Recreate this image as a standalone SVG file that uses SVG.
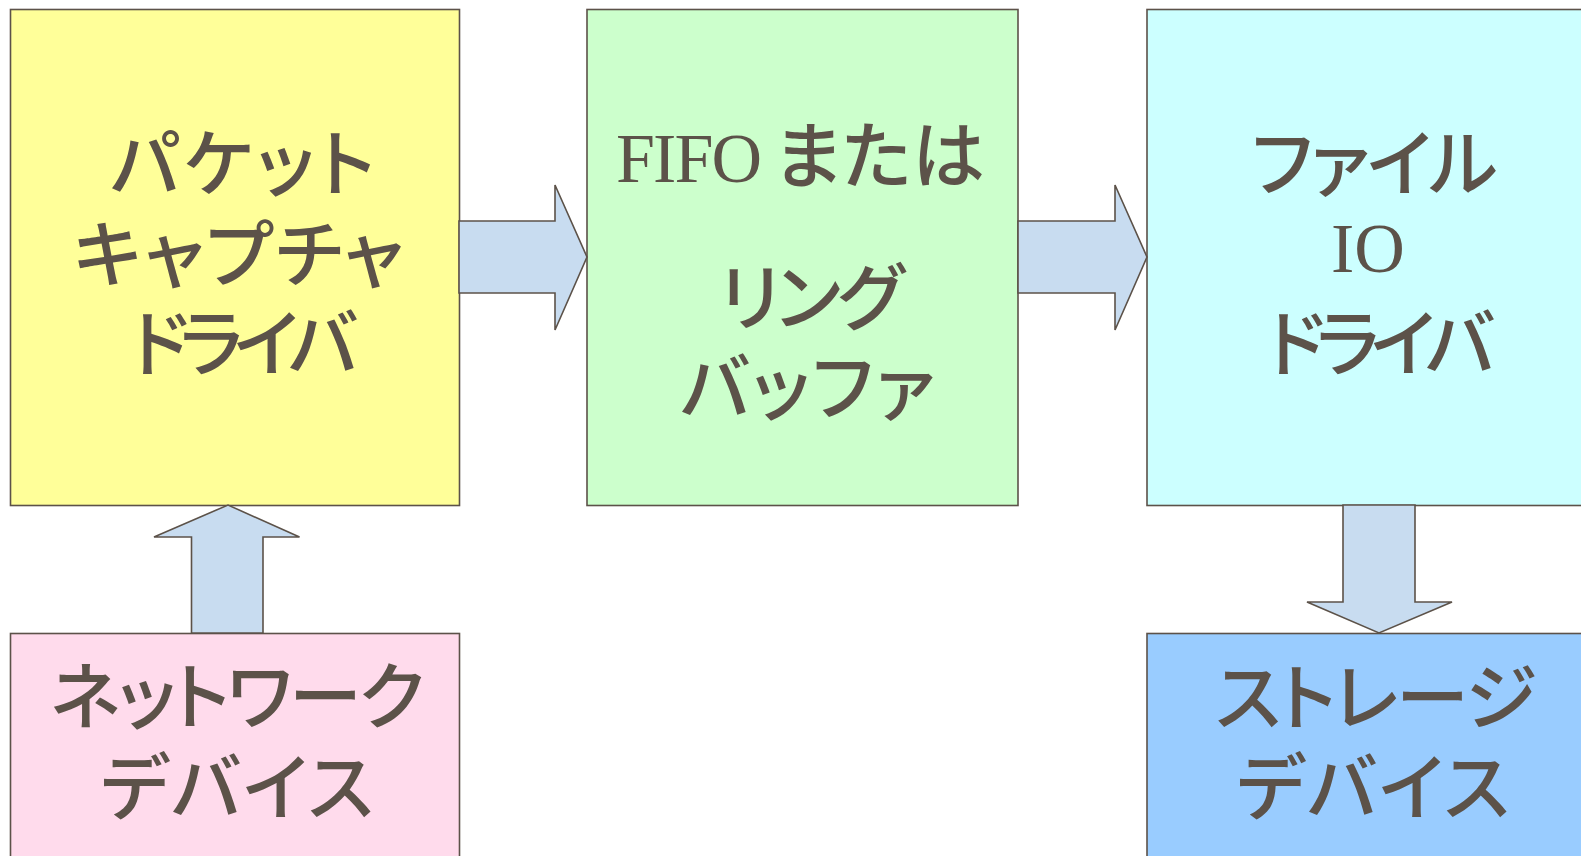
<svg xmlns="http://www.w3.org/2000/svg" width="1581" height="856" viewBox="0 0 1581 856">
<style>
.box{stroke:#5C5249;stroke-width:1.6}
.arrow{fill:#C8DCF0;stroke:#5C5249;stroke-width:1.6;stroke-linejoin:miter}
.jp{font-family:"Noto Sans CJK JP","Noto Sans",sans-serif;font-size:73px;font-weight:500;fill:#5C5249;text-anchor:middle;font-feature-settings:"palt" 1}
.lat{font-family:"Liberation Serif",serif;font-size:70px;font-weight:normal;fill:#5C5249}
</style>
<rect width="1581" height="856" fill="#FFFFFF"/>
<g id="node-packet">
<rect class="box" x="10.5" y="9.5" width="449" height="496" fill="#FFFF99"/>
<text class="jp" x="242.5" y="190" textLength="264" lengthAdjust="spacing">パケット</text>
<text class="jp" x="238.5" y="281" textLength="330" lengthAdjust="spacing">キャプチャ</text>
<text class="jp" x="244" y="370" textLength="227" lengthAdjust="spacing">ドライバ</text>
</g>
<g id="node-fifo">
<rect class="box" x="587" y="9.5" width="431" height="496" fill="#CCFFCC"/>
<text class="lat" x="616" y="182" textLength="146" lengthAdjust="spacing">FIFO</text>
<text class="jp" x="774" y="182" style="text-anchor:start" textLength="211" lengthAdjust="spacing">または</text>
<text class="jp" x="811.5" y="324" textLength="184" lengthAdjust="spacing">リング</text>
<text class="jp" x="807.5" y="414" textLength="254" lengthAdjust="spacing">バッファ</text>
</g>
<g id="node-fileio">
<rect class="box" x="1147" y="9.5" width="449" height="496" fill="#CCFFFF"/>
<text class="jp" x="1374.5" y="190" textLength="246" lengthAdjust="spacing">ファイル</text>
<text class="lat" x="1368" y="272" style="text-anchor:middle">IO</text>
<text class="jp" x="1380.5" y="370" textLength="228" lengthAdjust="spacing">ドライバ</text>
</g>
<g id="node-network">
<rect class="box" x="10.5" y="633.5" width="449" height="240" fill="#FFDBEC"/>
<text class="jp" x="237.5" y="723" textLength="374" lengthAdjust="spacing">ネットワーク</text>
<text class="jp" x="237" y="814" textLength="273" lengthAdjust="spacing">デバイス</text>
</g>
<g id="node-storage">
<rect class="box" x="1147" y="633.5" width="449" height="240" fill="#99CCFF"/>
<text class="jp" x="1376" y="724" textLength="321" lengthAdjust="spacing">ストレージ</text>
<text class="jp" x="1373" y="814" textLength="273" lengthAdjust="spacing">デバイス</text>
</g>
<g id="connectors">
<polygon class="arrow" points="459,221 555,221 555,185 587,257 555,330 555,293 459,293"/>
<polygon class="arrow" points="1018,221 1115,221 1115,185 1147,257 1115,330 1115,293 1018,293"/>
<polygon class="arrow" points="191.5,633 191.5,537 154,537 228,505 299.5,537 263,537 263,633"/>
<polygon class="arrow" points="1343,505 1415,505 1415,602 1452,602 1379,633 1307,602 1343,602"/>
</g>
</svg>
